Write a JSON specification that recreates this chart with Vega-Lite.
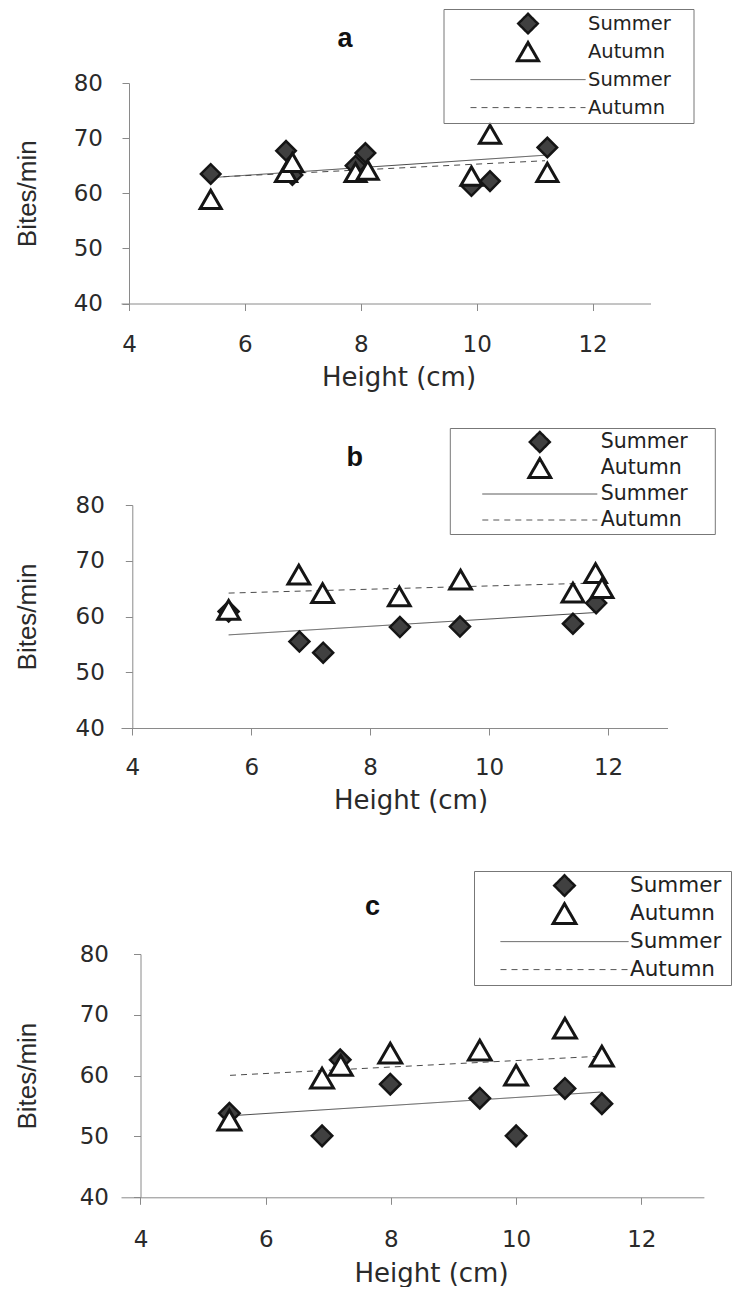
{
  "$schema": "https://vega.github.io/schema/vega-lite/v6.json",
  "padding": {"left": 14, "top": 8, "right": 1, "bottom": 0},
  "background": "white",
  "columns": 1,
  "align": "none",
  "spacing": 37,
  "datasets": {
    "ptsA": [
      {"h": 5.41, "b": 63.5, "s": "Summer"}, {"h": 6.71, "b": 67.7, "s": "Summer"}, {"h": 6.82, "b": 63.3, "s": "Summer"}, {"h": 7.91, "b": 65.0, "s": "Summer"},
      {"h": 8.08, "b": 67.3, "s": "Summer"}, {"h": 9.91, "b": 61.3, "s": "Summer"}, {"h": 10.23, "b": 62.2, "s": "Summer"}, {"h": 11.22, "b": 68.3, "s": "Summer"},
      {"h": 5.41, "b": 58.9, "s": "Autumn"}, {"h": 6.71, "b": 63.8, "s": "Autumn"}, {"h": 6.82, "b": 65.6, "s": "Autumn"}, {"h": 7.91, "b": 63.8, "s": "Autumn"},
      {"h": 8.12, "b": 64.2, "s": "Autumn"}, {"h": 9.91, "b": 63.1, "s": "Autumn"}, {"h": 10.23, "b": 70.7, "s": "Autumn"}, {"h": 11.22, "b": 63.8, "s": "Autumn"}
    ],
    "fitA": [
      {"h": 5.44, "b": 62.85, "s": "Summer fit"}, {"h": 11.18, "b": 66.9, "s": "Summer fit"},
      {"h": 5.44, "b": 62.9, "s": "Autumn fit"}, {"h": 11.18, "b": 65.9, "s": "Autumn fit"}
    ],
    "ptsB": [
      {"h": 5.62, "b": 60.9, "s": "Summer"}, {"h": 6.81, "b": 55.5, "s": "Summer"}, {"h": 7.21, "b": 53.5, "s": "Summer"}, {"h": 8.5, "b": 58.1, "s": "Summer"},
      {"h": 9.51, "b": 58.2, "s": "Summer"}, {"h": 11.41, "b": 58.7, "s": "Summer"}, {"h": 11.8, "b": 62.4, "s": "Summer"},
      {"h": 5.62, "b": 61.2, "s": "Autumn"}, {"h": 6.8, "b": 67.5, "s": "Autumn"}, {"h": 7.2, "b": 64.2, "s": "Autumn"}, {"h": 8.49, "b": 63.6, "s": "Autumn"},
      {"h": 9.52, "b": 66.6, "s": "Autumn"}, {"h": 11.41, "b": 64.3, "s": "Autumn"}, {"h": 11.79, "b": 67.8, "s": "Autumn"}, {"h": 11.9, "b": 65.1, "s": "Autumn"}
    ],
    "fitB": [
      {"h": 5.62, "b": 56.7, "s": "Summer fit"}, {"h": 11.77, "b": 60.7, "s": "Summer fit"},
      {"h": 5.62, "b": 64.2, "s": "Autumn fit"}, {"h": 11.77, "b": 66.0, "s": "Autumn fit"}
    ],
    "ptsC": [
      {"h": 5.42, "b": 53.8, "s": "Summer"}, {"h": 6.9, "b": 50.1, "s": "Summer"}, {"h": 7.19, "b": 62.6, "s": "Summer"}, {"h": 7.99, "b": 58.6, "s": "Summer"},
      {"h": 9.42, "b": 56.3, "s": "Summer"}, {"h": 10.0, "b": 50.1, "s": "Summer"}, {"h": 10.78, "b": 57.9, "s": "Summer"}, {"h": 11.37, "b": 55.4, "s": "Summer"},
      {"h": 5.42, "b": 52.7, "s": "Autumn"}, {"h": 6.9, "b": 59.6, "s": "Autumn"}, {"h": 7.2, "b": 61.7, "s": "Autumn"}, {"h": 7.99, "b": 63.7, "s": "Autumn"},
      {"h": 9.42, "b": 64.2, "s": "Autumn"}, {"h": 10.0, "b": 60.1, "s": "Autumn"}, {"h": 10.78, "b": 67.8, "s": "Autumn"}, {"h": 11.37, "b": 63.2, "s": "Autumn"}
    ],
    "fitC": [
      {"h": 5.43, "b": 53.4, "s": "Summer fit"}, {"h": 11.35, "b": 57.3, "s": "Summer fit"},
      {"h": 5.43, "b": 60.05, "s": "Autumn fit"}, {"h": 11.35, "b": 63.2, "s": "Autumn fit"}
    ]
  },
  "concat": [
    {
      "width": 529.5, "height": 220.5,
      "title": {"text": "a", "font": "Liberation Sans", "fontSize": 27, "fontWeight": "bold", "color": "#111", "anchor": "start", "frame": "group", "dx": 216.5, "offset": -44},
      "layer": [
        {
          "data": {"name": "fitA"},
          "mark": {"type": "line", "opacity": 1, "stroke": "#4a4a4a", "strokeWidth": 1},
          "encoding": {
            "x": {"field": "h", "type": "quantitative", "scale": {"domain": [3.862, 13], "nice": false, "zero": false}, "axis": {"values": [4, 6, 8, 10, 12], "format": "d", "title": "Height (cm)", "labelPadding": 22.5, "titlePadding": 8, "titleX": 277.5}},
            "y": {"field": "b", "type": "quantitative", "scale": {"domain": [40, 80], "nice": false, "zero": false}, "axis": {"values": [40, 50, 60, 70, 80], "format": "d", "title": "Bites/min", "offset": -8, "labelPadding": 19.5, "titlePadding": 33}},
            "strokeDash": {"field": "s", "type": "nominal", "scale": {"domain": ["Summer", "Autumn", "Summer fit", "Autumn fit"], "range": [[1, 0], [1, 0], [1, 0], [6, 5]]}}
          }
        },
        {
          "data": {"name": "ptsA"},
          "mark": {"type": "point", "filled": true, "opacity": 1},
          "encoding": {
            "x": {"field": "h", "type": "quantitative"},
            "y": {"field": "b", "type": "quantitative"},
            "shape": {"field": "s", "type": "nominal", "scale": {"domain": ["Summer", "Autumn", "Summer fit", "Autumn fit"], "range": ["diamond", "triangle-up", "stroke", "stroke"]},
              "legend": {"orient": "none", "legendX": 322.5, "legendY": -74, "title": " ", "titleOrient": "right", "titlePadding": 21, "clipHeight": 25.2, "symbolOffset": 24.5, "labelOffset": 2, "labelFontSize": 19.5, "labelExpr": "replace(datum.label, ' fit', '')"}},
            "fill": {"field": "s", "type": "nominal", "scale": {"domain": ["Summer", "Autumn", "Summer fit", "Autumn fit"], "range": ["#404040", "#ffffff", "transparent", "transparent"]}},
            "stroke": {"field": "s", "type": "nominal", "scale": {"domain": ["Summer", "Autumn", "Summer fit", "Autumn fit"], "range": ["#151515", "#151515", "#4a4a4a", "#555555"]}},
            "strokeWidth": {"field": "s", "type": "nominal", "scale": {"type": "ordinal", "domain": ["Summer", "Autumn", "Summer fit", "Autumn fit"], "range": [2.5, 3, 1, 1]}},
            "size": {"field": "s", "type": "nominal", "scale": {"type": "ordinal", "domain": ["Summer", "Autumn", "Summer fit", "Autumn fit"], "range": [380, 440, 13225, 13225]}}
          }
        }
      ]
    },
    {
      "width": 546.5, "height": 223,
      "title": {"text": "b", "font": "Liberation Sans", "fontSize": 27, "fontWeight": "bold", "color": "#111", "anchor": "start", "frame": "group", "dx": 225.5, "offset": -44},
      "layer": [
        {
          "data": {"name": "fitB"},
          "mark": {"type": "line", "opacity": 1, "stroke": "#4a4a4a", "strokeWidth": 1},
          "encoding": {
            "x": {"field": "h", "type": "quantitative", "scale": {"domain": [3.81, 13], "nice": false, "zero": false}, "axis": {"values": [4, 6, 8, 10, 12], "format": "d", "title": ["Height (cm)", " "], "titleLineHeight": 19.4, "labelPadding": 21.7, "titlePadding": 7.6, "titleX": 289.5}},
            "y": {"field": "b", "type": "quantitative", "scale": {"domain": [40, 80], "nice": false, "zero": false}, "axis": {"values": [40, 50, 60, 70, 80], "format": "d", "title": "Bites/min", "offset": -11.3, "labelPadding": 21, "titlePadding": 34.8}},
            "strokeDash": {"field": "s", "type": "nominal", "scale": {"domain": ["Summer", "Autumn", "Summer fit", "Autumn fit"], "range": [[1, 0], [1, 0], [1, 0], [6, 5]]}}
          }
        },
        {
          "data": {"name": "ptsB"},
          "mark": {"type": "point", "filled": true, "opacity": 1},
          "encoding": {
            "x": {"field": "h", "type": "quantitative"},
            "y": {"field": "b", "type": "quantitative"},
            "shape": {"field": "s", "type": "nominal", "scale": {"domain": ["Summer", "Autumn", "Summer fit", "Autumn fit"], "range": ["diamond", "triangle-up", "stroke", "stroke"]},
              "legend": {"orient": "none", "legendX": 328.8, "legendY": -77, "title": " ", "titleOrient": "right", "titlePadding": 24.9, "clipHeight": 24, "symbolOffset": 30, "labelOffset": 3, "labelFontSize": 20.5, "labelExpr": "replace(datum.label, ' fit', '')"}},
            "fill": {"field": "s", "type": "nominal", "scale": {"domain": ["Summer", "Autumn", "Summer fit", "Autumn fit"], "range": ["#404040", "#ffffff", "transparent", "transparent"]}},
            "stroke": {"field": "s", "type": "nominal", "scale": {"domain": ["Summer", "Autumn", "Summer fit", "Autumn fit"], "range": ["#151515", "#151515", "#4a4a4a", "#555555"]}},
            "strokeWidth": {"field": "s", "type": "nominal", "scale": {"type": "ordinal", "domain": ["Summer", "Autumn", "Summer fit", "Autumn fit"], "range": [2.5, 3, 1, 1]}},
            "size": {"field": "s", "type": "nominal", "scale": {"type": "ordinal", "domain": ["Summer", "Autumn", "Summer fit", "Autumn fit"], "range": [400, 470, 13225, 13225]}}
          }
        }
      ]
    },
    {
      "width": 582.9, "height": 243.3,
      "title": {"text": "c", "font": "Liberation Sans", "fontSize": 27, "fontWeight": "bold", "color": "#111", "anchor": "start", "frame": "group", "dx": 244, "offset": -50},
      "layer": [
        {
          "data": {"name": "fitC"},
          "mark": {"type": "line", "opacity": 1, "stroke": "#4a4a4a", "strokeWidth": 1},
          "encoding": {
            "x": {"field": "h", "type": "quantitative", "scale": {"domain": [3.6885, 13], "nice": false, "zero": false}, "axis": {"values": [4, 6, 8, 10, 12], "format": "d", "title": "Height (cm)", "labelPadding": 23.7, "titlePadding": 9.6, "titleX": 310}},
            "y": {"field": "b", "type": "quantitative", "scale": {"domain": [40, 80], "nice": false, "zero": false}, "axis": {"values": [40, 50, 60, 70, 80], "format": "d", "title": "Bites/min", "offset": -19.5, "labelPadding": 25, "titlePadding": 39}},
            "strokeDash": {"field": "s", "type": "nominal", "scale": {"domain": ["Summer", "Autumn", "Summer fit", "Autumn fit"], "range": [[1, 0], [1, 0], [1, 0], [6, 5]]}}
          }
        },
        {
          "data": {"name": "ptsC"},
          "mark": {"type": "point", "filled": true, "opacity": 1},
          "encoding": {
            "x": {"field": "h", "type": "quantitative"},
            "y": {"field": "b", "type": "quantitative"},
            "shape": {"field": "s", "type": "nominal", "scale": {"domain": ["Summer", "Autumn", "Summer fit", "Autumn fit"], "range": ["diamond", "triangle-up", "stroke", "stroke"]},
              "legend": {"orient": "none", "legendX": 353, "legendY": -83, "title": " ", "titleOrient": "right", "titlePadding": 8, "clipHeight": 25.2, "symbolOffset": 24, "labelOffset": 1, "labelFontSize": 21.5, "labelExpr": "replace(datum.label, ' fit', '')"}},
            "fill": {"field": "s", "type": "nominal", "scale": {"domain": ["Summer", "Autumn", "Summer fit", "Autumn fit"], "range": ["#404040", "#ffffff", "transparent", "transparent"]}},
            "stroke": {"field": "s", "type": "nominal", "scale": {"domain": ["Summer", "Autumn", "Summer fit", "Autumn fit"], "range": ["#151515", "#151515", "#4a4a4a", "#555555"]}},
            "strokeWidth": {"field": "s", "type": "nominal", "scale": {"type": "ordinal", "domain": ["Summer", "Autumn", "Summer fit", "Autumn fit"], "range": [2.5, 3, 1, 1]}},
            "size": {"field": "s", "type": "nominal", "scale": {"type": "ordinal", "domain": ["Summer", "Autumn", "Summer fit", "Autumn fit"], "range": [420, 520, 16384, 16384]}}
          }
        }
      ]
    }
  ],
  "resolve": {
    "scale": {"x": "independent", "y": "independent", "shape": "independent", "fill": "independent", "stroke": "independent", "strokeWidth": "independent", "strokeDash": "independent", "size": "independent"},
    "legend": {"shape": "independent", "fill": "independent", "stroke": "independent", "strokeWidth": "independent", "strokeDash": "independent", "size": "independent"}
  },
  "config": {
    "view": {"stroke": null},
    "axis": {
      "grid": false, "domainColor": "#8a8a8a", "domainWidth": 1, "tickColor": "#8a8a8a", "tickSize": 7, "tickWidth": 1,
      "labelFont": "DejaVu Sans", "labelFontSize": 23, "labelColor": "#2a2a2a",
      "titleFont": "DejaVu Sans", "titleFontSize": 26, "titleFontWeight": "normal", "titleColor": "#2a2a2a"
    },
    "axisY": {"titleFont": "Liberation Sans", "titleFontSize": 26},
    "legend": {"labelFont": "DejaVu Sans", "labelColor": "#222222", "strokeColor": "#777777", "strokeWidth": 1, "padding": 2, "rowPadding": 2, "titleFontSize": 19, "titleFont": "DejaVu Sans"}
  }
}
